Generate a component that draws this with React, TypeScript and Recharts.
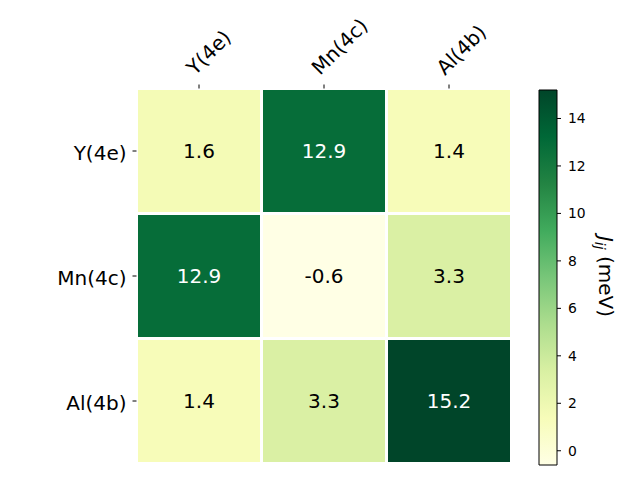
import React from "react";
import { Bar, BarChart, Label, Scatter, ScatterChart, XAxis, YAxis } from "recharts";

// exchange couplings J_ij (meV) between sublattices
const sites = ["Y(4e)", "Mn(4c)", "Al(4b)"];
const jFromY = [1.6, 12.9, 1.4];
const jFromMn = [12.9, -0.6, 3.3];
const jFromAl = [1.4, 3.3, 15.2];
const jRows = [jFromY, jFromMn, jFromAl];
const cbarTicks = [0, 2, 4, 6, 8, 10, 12, 14];
const jMin = -0.6;
const jMax = 15.2;

const YLGN = [
  "#ffffe5",
  "#f7fcb9",
  "#d9f0a3",
  "#addd8e",
  "#78c679",
  "#41ab5d",
  "#238443",
  "#006837",
  "#004529",
];

const FONT = "DejaVu Sans";
const PLOT = 375; // heatmap plot square
const CELL = PLOT / sites.length;
const TICK = 4;
const TOP_MARGIN = 2;
const LEFT_MARGIN = 6;
const CBAR_MARGIN = 7;

const hexToRgb = (h: string) => [1, 3, 5].map((i) => parseInt(h.slice(i, i + 2), 16));

const ylgn = (v: number) => {
  const t = Math.min(1, Math.max(0, (v - jMin) / (jMax - jMin))) * (YLGN.length - 1);
  const i = Math.min(YLGN.length - 2, Math.floor(t));
  const f = t - i;
  const a = hexToRgb(YLGN[i]);
  const b = hexToRgb(YLGN[i + 1]);
  const c = a.map((av, k) => Math.round(av + (b[k] - av) * f));
  return `rgb(${c[0]},${c[1]},${c[2]})`;
};

const cells = jRows.flatMap((row, r) => row.map((value, c) => ({ x: c, y: r, value })));
const cbarData = [{ name: "J", span: [jMin, jMax] }];

const HeatCell = (props: any) => {
  const { cx, cy, payload } = props;
  const v: number = payload.value;
  return (
    <g>
      <rect
        x={cx - CELL / 2}
        y={cy - CELL / 2}
        width={CELL}
        height={CELL}
        fill={ylgn(v)}
        stroke="#fff"
        strokeWidth={3}
      />
      <text
        x={cx}
        y={cy + 7.3}
        textAnchor="middle"
        fontSize={20}
        fontFamily={FONT}
        fill={v > 8 ? "#fff" : "#000"}
      >
        {v.toFixed(1)}
      </text>
    </g>
  );
};

const TopTick = (props: any) => {
  const { x, y, payload } = props;
  const sx = x - 4;
  const sy = y - 6.5;
  return (
    <g>
      <line x1={x} x2={x} y1={y + TOP_MARGIN} y2={y + TOP_MARGIN + TICK} stroke="#000" strokeWidth={1} />
      <text
        x={sx}
        y={sy}
        transform={`rotate(-45, ${sx}, ${sy})`}
        fontSize={20}
        fontFamily={FONT}
        fill="#000"
      >
        {sites[payload.value]}
      </text>
    </g>
  );
};

const LeftTick = (props: any) => {
  const { x, y, payload } = props;
  return (
    <g>
      <line x1={x + LEFT_MARGIN} x2={x + LEFT_MARGIN + TICK} y1={y} y2={y} stroke="#000" strokeWidth={1} />
      <text x={x} y={y + 9} textAnchor="end" fontSize={20} fontFamily={FONT} fill="#000">
        {sites[payload.value]}
      </text>
    </g>
  );
};

const CbarTick = (props: any) => {
  const { x, y, payload } = props;
  return (
    <g>
      <line x1={x - CBAR_MARGIN - TICK} x2={x - CBAR_MARGIN} y1={y} y2={y} stroke="#000" strokeWidth={1} />
      <text x={x} y={y + 5} textAnchor="start" fontSize={13.9} fontFamily={FONT} fill="#000">
        {payload.value}
      </text>
    </g>
  );
};

const CbarLabel = (props: any) => {
  const { viewBox } = props;
  const bx = viewBox.x + 42;
  const cy = viewBox.y + viewBox.height / 2 - 1;
  return (
    <text
      x={bx}
      y={cy}
      transform={`rotate(90, ${bx}, ${cy})`}
      textAnchor="middle"
      fontSize={20}
      fontFamily={FONT}
      fill="#000"
    >
      <tspan fontStyle="italic">J</tspan>
      <tspan fontStyle="italic" fontSize={14} dy={4}>
        ij
      </tspan>
      <tspan dy={-4}> (meV)</tspan>
    </text>
  );
};

export default function App() {
  return (
    <div style={{ position: "absolute", left: 0, top: 0, width: 640, height: 480, background: "#fff" }}>
      <svg width={0} height={0} style={{ position: "absolute" }}>
        <defs>
          <linearGradient id="ylgnGrad" x1="0" y1="1" x2="0" y2="0">
            {YLGN.map((c, i) => (
              <stop key={c} offset={i / (YLGN.length - 1)} stopColor={c} />
            ))}
          </linearGradient>
        </defs>
      </svg>

      <div style={{ position: "absolute", left: 0, top: 0 }}>
        <ScatterChart width={640} height={480} margin={{ top: 0, right: 128.5, bottom: 16.5, left: 0 }}>
          <XAxis
            type="number"
            dataKey="x"
            orientation="top"
            domain={[-0.5, 2.5]}
            ticks={[0, 1, 2]}
            interval={0}
            height={88.5}
            axisLine={false}
            tickSize={TICK}
            tickMargin={TOP_MARGIN}
            tickLine={false}
            tick={<TopTick />}
          />
          <YAxis
            type="number"
            dataKey="y"
            reversed
            domain={[-0.5, 2.5]}
            ticks={[0, 1, 2]}
            interval={0}
            width={136.5}
            axisLine={false}
            tickSize={TICK}
            tickMargin={LEFT_MARGIN}
            tickLine={false}
            tick={<LeftTick />}
          />
          <Scatter data={cells} shape={<HeatCell />} isAnimationActive={false} />
        </ScatterChart>
      </div>

      <div style={{ position: "absolute", left: 0, top: 0 }}>
        <BarChart
          width={640}
          height={480}
          data={cbarData}
          barCategoryGap={0}
          margin={{ top: 90, right: 23, bottom: 15, left: 539 }}
        >
          <XAxis dataKey="name" hide />
          <YAxis
            orientation="right"
            type="number"
            domain={[jMin, jMax]}
            ticks={cbarTicks}
            interval={0}
            width={60}
            axisLine={false}
            tickSize={TICK}
            tickMargin={CBAR_MARGIN}
            tickLine={false}
            tick={<CbarTick />}
          >
            <Label content={<CbarLabel />} />
          </YAxis>
          <Bar dataKey="span" fill="url(#ylgnGrad)" stroke="#000" strokeWidth={1} isAnimationActive={false} />
        </BarChart>
      </div>
    </div>
  );
}
